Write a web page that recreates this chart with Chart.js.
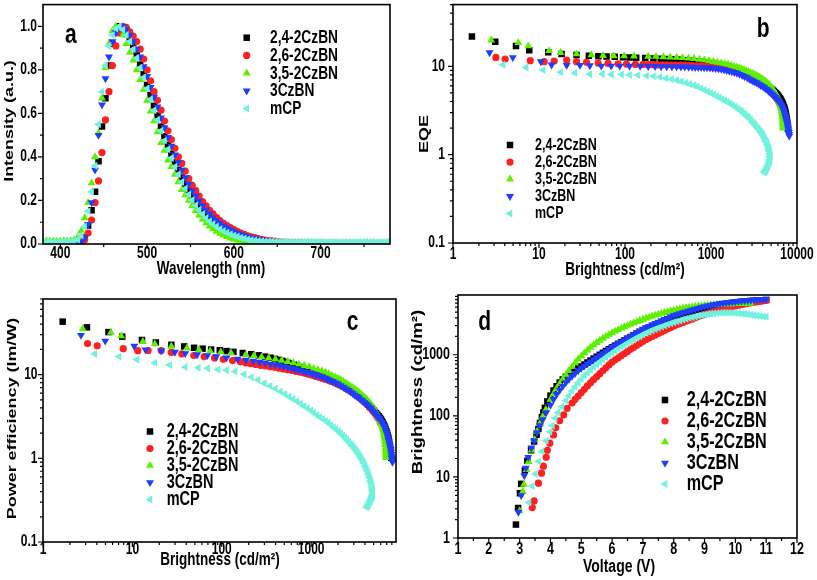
<!DOCTYPE html>
<html><head><meta charset="utf-8">
<script src="https://cdn.jsdelivr.net/npm/chart.js@4.4.0/dist/chart.umd.min.js"></script>
<style>
html,body{margin:0;padding:0;background:#fff;}
#wrap{position:relative;width:817px;height:580px;overflow:hidden;background:#fff;}
canvas{position:absolute;}
</style></head><body>
<div id="wrap">
<canvas id="ca" width="410" height="290" style="left:0px;top:0px;width:410px;height:290px"></canvas>
<canvas id="cb" width="407" height="290" style="left:410px;top:0px;width:407px;height:290px"></canvas>
<canvas id="cc" width="410" height="290" style="left:0px;top:290px;width:410px;height:290px"></canvas>
<canvas id="cd" width="407" height="290" style="left:410px;top:290px;width:407px;height:290px"></canvas>
</div>
<script>
// ---------- series names ----------
const NAMES = ['2,4-2CzBN','2,6-2CzBN','3,5-2CzBN','3CzBN','mCP'];

// ---------- panel a : PL spectra ----------
const WL = [380,384,388,392,396,400,404,408,412,416,420,424,428,432,436,440,444,448,452,456,460,464,468,472,476,480,484,488,492,496,500,504,508,512,516,520,524,528,532,536,540,544,548,552,556,560,564,568,572,576,580,584,588,592,596,600,604,608,612,616,620,624,628,632,636,640,644,648,652,656,660,664,668,672,676,680,684,688,692,696,700,704,708,712,716,720,724,728,732,736,740,744,748,752,756,760,764,768,772,776,780];
const PL_24 = [null,null,null,null,null,null,null,null,null,null,
0.002,0.005,0.03,0.085,0.155,0.24,0.38,0.54,0.67,0.82,
0.92,0.98,1.0,0.99,0.965,0.94,0.905,0.87,0.825,0.78,
0.73,0.685,0.635,0.59,0.54,0.495,0.455,0.415,0.375,0.34,
0.305,0.275,0.245,0.22,0.195,0.172,0.152,0.135,0.118,0.104,
0.091,0.08,0.07,0.061,0.053,0.046,0.04,0.035,0.03,0.026,
0.022,0.019,0.016,0.014,0.012,0.01,0.009,0.008,0.007,0.006,0.005,
0.005,0.004,0.004,0.004,0.003,0.003,0.003,0.003,0.003,0.003,
0.002,0.002,0.002,0.002,0.002,0.002,0.002,0.002,0.002,0.002,
0.002,0.002,0.002,0.002,0.002,0.002,0.002,0.002,0.002,0.002];
const PL_26 = [null,null,null,null,null,null,null,null,null,null,
0.003,0.008,0.02,0.05,0.11,0.19,0.29,0.42,0.57,0.70,
0.82,0.91,0.97,1.0,0.995,0.975,0.955,0.93,0.895,0.85,
0.8,0.75,0.70,0.66,0.615,0.565,0.52,0.48,0.44,0.40,
0.37,0.335,0.30,0.27,0.245,0.22,0.195,0.175,0.155,0.138,
0.122,0.108,0.095,0.085,0.075,0.066,0.058,0.05,0.044,0.038,
0.033,0.029,0.025,0.021,0.018,0.016,0.014,0.012,0.010,0.009,0.008,
0.007,0.006,0.006,0.005,0.005,0.004,0.004,0.004,0.003,0.003,
0.003,0.003,0.003,0.002,0.002,0.002,0.002,0.002,0.002,0.002,
0.002,0.002,0.002,0.002,0.002,0.002,0.002,0.002,0.002,0.002];
const PL_35 = [0.012,0.013,0.012,0.013,0.012,0.013,0.014,0.013,0.015,0.018,
0.03,0.06,0.12,0.19,0.28,0.40,0.51,0.67,0.81,0.92,
0.98,1.0,0.995,0.96,0.92,0.88,0.845,0.80,0.755,0.71,
0.66,0.61,0.565,0.515,0.465,0.43,0.385,0.355,0.32,0.285,
0.25,0.225,0.2,0.175,0.153,0.132,0.113,0.097,0.082,0.069,
0.058,0.048,0.04,0.033,0.027,0.022,0.018,0.015,0.012,0.010,
0.008,0.007,0.006,0.005,0.005,0.004,0.004,0.004,0.003,0.003,0.003,
0.003,0.003,0.003,0.003,0.003,0.003,0.003,0.003,0.003,0.003,
0.003,0.003,0.003,0.003,0.003,0.003,0.003,0.003,0.003,0.003,
0.003,0.003,0.003,0.003,0.003,0.003,0.003,0.003,0.003,0.003];
const PL_3 = [null,null,null,null,null,null,null,null,null,null,
0.004,0.01,0.03,0.09,0.19,0.34,0.50,0.64,0.76,0.86,
0.93,0.97,0.995,1.0,0.985,0.96,0.93,0.895,0.86,0.815,
0.77,0.72,0.675,0.63,0.58,0.535,0.49,0.45,0.41,0.375,
0.34,0.305,0.275,0.245,0.22,0.197,0.175,0.156,0.138,0.122,
0.108,0.095,0.084,0.074,0.065,0.057,0.05,0.044,0.038,0.033,
0.029,0.025,0.022,0.019,0.016,0.014,0.012,0.01,0.009,0.008,0.007,
0.006,0.005,0.005,0.004,0.004,0.004,0.003,0.003,0.003,0.003,
0.003,0.003,0.003,0.003,0.003,0.003,0.003,0.003,0.003,0.003,
0.003,0.003,0.003,0.003,0.003,0.003,0.003,0.003,0.003,0.003];
const PL_M = [0.008,0.008,0.009,0.009,0.010,0.010,0.010,0.011,0.012,0.015,
0.02,0.04,0.08,0.15,0.24,0.36,0.55,0.70,0.82,0.91,
0.96,0.99,1.0,0.985,0.96,0.93,0.895,0.855,0.81,0.765,
0.715,0.665,0.615,0.57,0.52,0.475,0.435,0.395,0.355,0.32,
0.285,0.255,0.228,0.202,0.178,0.157,0.138,0.12,0.105,0.092,
0.08,0.069,0.06,0.052,0.045,0.039,0.034,0.029,0.025,0.021,
0.018,0.016,0.014,0.013,0.012,0.011,0.011,0.01,0.01,0.01,0.01,
0.01,0.01,0.01,0.01,0.01,0.01,0.01,0.01,0.01,0.01,
0.009,0.009,0.009,0.009,0.009,0.009,0.009,0.009,0.009,0.009,
0.009,0.009,0.009,0.009,0.009,0.009,0.009,0.009,0.009,0.009];

// ---------- devices: voltage (V), brightness (cd/m2), EQE (%), PE (lm/W) ----------
const V_24 = [2.88,2.95,3.01,3.05,3.17,3.25,3.37,3.47,3.55,3.61,3.66,3.72,3.77,3.82,3.9,
4.0,4.1,4.2,4.3,4.4,4.5,4.6,4.7,4.8,4.9,5.0,5.1,5.2,5.3,5.4,5.5,5.6,5.7,5.8,5.9,
6.0,6.1,6.2,6.3,6.4,6.5,6.6,6.7,6.8,6.9,7.0,7.1,7.2,7.3,7.4,7.5,7.6,7.7,7.8,7.9,
8.0,8.1,8.2,8.3,8.4,8.5,8.6,8.7,8.8,8.9,9.0,9.1,9.2,9.3,9.4,9.5,9.6,9.7,9.8,9.9,
10.0,10.1,10.2,10.3,10.4,10.5,10.6,10.7,10.8,10.9,11.0];
const L_24 = [1.66,3.1,5.4,7.7,12.8,18.3,27.3,38,49,61,76,95,113,135,172,
214,260,305,351,394,435,474,514,555,597,641,692,746,804,865,929,998,1072,1148,1230,
1318,1409,1507,1607,1714,1828,1950,2080,2218,2360,2512,2655,2800,2951,3105,3266,3436,3606,3784,3972,
4169,4335,4498,4667,4831,5000,5176,5346,5521,5702,5888,6039,6180,6324,6457,6592,6714,6839,6950,7063,
7161,7261,7345,7430,7499,7568,7638,7691,7745,7798,7852];
const EQE_24 = [21.7,19.0,17.0,15.2,14.4,13.8,13.4,13.2,13.0,12.9,12.8,12.7,12.6,12.5,12.4,
12.3,12.2,12.1,12.0,11.9,11.85,11.75,11.7,11.6,11.5,11.45,11.35,11.25,11.1,11.0,10.9,10.8,10.7,10.55,10.4,
10.3,10.1,9.95,9.8,9.65,9.45,9.3,9.1,8.9,8.7,8.5,8.3,8.1,7.9,7.7,7.5,7.3,7.1,6.9,6.65,
6.4,6.2,6.0,5.85,5.7,5.55,5.4,5.25,5.1,4.95,4.8,4.65,4.5,4.35,4.2,4.05,3.9,3.75,3.6,3.45,
3.3,3.15,3.0,2.85,2.7,2.55,2.4,2.3,2.15,2.05,1.95];
const PE_24 = [42.9,36.7,32.2,28.4,25.9,24.2,22.7,21.7,20.9,20.4,19.9,19.5,19.1,18.7,18.1,
17.5,17.0,16.4,15.9,15.4,15.0,14.6,14.2,13.8,13.4,13.1,12.7,12.3,11.9,11.6,11.3,11.0,10.7,10.4,10.0,
9.8,9.4,9.15,8.9,8.6,8.3,8.0,7.7,7.5,7.2,6.9,6.7,6.4,6.2,5.9,5.7,5.5,5.3,5.0,4.8,
4.6,4.36,4.17,4.02,3.87,3.72,3.58,3.44,3.30,3.17,3.04,2.91,2.79,2.67,2.55,2.43,2.32,2.20,2.09,1.99,
1.88,1.78,1.68,1.58,1.48,1.38,1.29,1.23,1.13,1.07,1.01];

const V_26 = [3.41,3.47,3.61,3.71,3.77,3.86,3.9,3.98,4.1,4.17,4.3,4.43,4.54,4.7,4.8,4.9,
5.0,5.1,5.2,5.3,5.4,5.5,5.6,5.7,5.8,5.9,6.0,6.1,6.2,6.3,6.4,6.5,6.6,6.7,6.8,6.9,
7.0,7.1,7.2,7.3,7.4,7.5,7.6,7.7,7.8,7.9,8.0,8.1,8.2,8.3,8.4,8.5,8.6,8.7,8.8,8.9,
9.0,9.1,9.2,9.3,9.4,9.5,9.6,9.7,9.8,9.9,10.0,10.1,10.2,10.3,10.4,10.5,10.6,10.7,10.8,10.9,11.0];
const L_26 = [3.15,4.04,7.9,11.5,15,21,27.3,35.7,48.7,63.5,83,104,132,162,186,211,
240,272,308,347,390,438,490,547,611,681,759,824,893,968,1047,1132,1225,1321,1426,1538,
1660,1766,1875,1991,2109,2234,2366,2500,2642,2793,2951,3090,3236,3381,3532,3690,3855,4027,4207,4385,
4571,4732,4898,5058,5224,5395,5572,5754,5943,6124,6310,6471,6622,6776,6918,7063,7211,7345,7482,7621,7762];
const EQE_26 = [12.6,12.1,11.6,11.3,11.5,11.8,11.3,11.1,10.9,10.8,10.7,10.6,10.5,10.5,10.45,10.45,
10.4,10.4,10.4,10.35,10.35,10.3,10.3,10.25,10.2,10.15,10.1,10.05,10.0,9.95,9.85,9.75,9.65,9.55,9.45,9.35,
9.2,9.1,9.0,8.85,8.7,8.55,8.4,8.2,8.05,7.85,7.65,7.5,7.3,7.15,6.95,6.8,6.6,6.4,6.2,6.0,
5.75,5.6,5.4,5.2,5.0,4.8,4.6,4.4,4.2,4.0,3.8,3.6,3.45,3.25,3.1,2.9,2.75,2.6,2.45,2.3,2.15];
const PE_26 = [23.5,22.1,20.4,19.3,19.4,19.4,18.4,17.7,16.9,16.4,15.8,15.2,14.7,14.2,13.8,13.5,
13.2,12.9,12.7,12.4,12.2,11.9,11.7,11.4,11.2,10.9,10.7,10.5,10.2,10.0,9.8,9.5,9.3,9.05,8.8,8.6,
8.35,8.15,7.9,7.7,7.45,7.25,7.0,6.75,6.55,6.3,6.05,5.9,5.65,5.45,5.25,5.1,4.9,4.65,4.5,4.3,
4.05,3.9,3.75,3.55,3.4,3.2,3.05,2.9,2.7,2.55,2.4,2.25,2.15,2.0,1.9,1.75,1.65,1.55,1.45,1.35,1.25];

const V_35 = [3.0,3.1,3.14,3.23,3.29,3.39,3.49,3.57,3.65,3.75,3.85,
4.0,4.1,4.2,4.3,4.4,4.5,4.6,4.7,4.8,4.9,5.0,5.1,5.2,5.3,5.4,5.5,5.6,5.7,5.8,5.9,
6.0,6.1,6.2,6.3,6.4,6.5,6.6,6.7,6.8,6.9,7.0,7.1,7.2,7.3,7.4,7.5,7.6,7.7,7.8,7.9,
8.0,8.1,8.2,8.3,8.4,8.5,8.6,8.7,8.8,8.9,9.0,9.1,9.2,9.3,9.4,9.5,9.6,9.7,9.8,9.9,
10.0,10.1,10.2,10.3,10.4,10.5];
const L_35 = [2.78,5.75,7.5,13.1,17.8,27.3,40.7,55.6,74,97.5,127,
186,229,279,335,398,468,547,635,733,838,951,1067,1189,1315,1445,1578,1714,1854,1995,2138,
2280,2421,2564,2710,2858,3006,3155,3311,3467,3622,3784,3945,4102,4256,4416,4571,4732,4887,5047,5200,
5346,5480,5610,5735,5855,5970,6075,6170,6255,6330,6400,6465,6525,6580,6630,6675,6715,6750,6780,6805,
6828,6848,6865,6880,6893,6905];
const EQE_35 = [19.8,18.5,17.0,15.0,14.3,13.8,13.5,13.2,13.1,13.1,13.05,
12.95,12.9,12.8,12.7,12.6,12.5,12.35,12.2,12.0,11.8,11.6,11.3,11.1,10.9,10.7,10.5,10.25,10.0,9.8,9.6,
9.35,9.1,8.9,8.7,8.5,8.3,8.1,7.9,7.75,7.55,7.35,7.15,7.0,6.8,6.6,6.4,6.2,6.0,5.75,5.5,
5.3,5.1,4.95,4.8,4.6,4.45,4.3,4.15,4.0,3.85,3.7,3.55,3.45,3.3,3.15,3.0,2.9,2.75,2.65,2.5,
2.4,2.3,2.2,2.1,2.05,2.0];
const PE_35 = [35.2,31.8,28.9,24.8,23.2,21.7,20.6,19.7,19.1,18.6,18.1,
17.3,16.8,16.2,15.7,15.3,14.8,14.3,13.8,13.3,12.8,12.4,11.8,11.4,11.0,10.6,10.2,9.75,9.35,9.0,8.7,
8.3,7.95,7.65,7.35,7.1,6.8,6.55,6.3,6.05,5.85,5.6,5.35,5.2,4.95,4.75,4.55,4.35,4.15,3.95,3.7,
3.55,3.35,3.2,3.1,2.9,2.8,2.65,2.55,2.4,2.3,2.2,2.1,2.0,1.9,1.8,1.7,1.6,1.5,1.45,1.35,
1.28,1.21,1.15,1.09,1.05,1.02];

const V_3 = [2.96,3.05,3.15,3.2,3.28,3.38,3.47,3.56,3.65,3.75,3.86,
4.0,4.1,4.2,4.3,4.4,4.5,4.6,4.7,4.8,4.9,5.0,5.1,5.2,5.3,5.4,5.5,5.6,5.7,5.8,5.9,
6.0,6.1,6.2,6.3,6.4,6.5,6.6,6.7,6.8,6.9,7.0,7.1,7.2,7.3,7.4,7.5,7.6,7.7,7.8,7.9,
8.0,8.1,8.2,8.3,8.4,8.5,8.6,8.7,8.8,8.9,9.0,9.1,9.2,9.3,9.4,9.5,9.6,9.7,9.8,9.9,
10.0,10.1,10.2,10.3,10.4,10.5,10.6,10.7,10.8,10.9,11.0];
const L_3 = [2.66,4.96,10.5,14,21,29.9,39,53,69,87,113,
150,186,224,263,305,351,398,447,495,550,603,655,710,769,832,899,973,1050,1132,1222,
1318,1416,1521,1629,1746,1871,2004,2148,2301,2460,2630,2780,2931,3090,3251,3420,3597,3776,3963,4159,
4365,4539,4710,4887,5058,5236,5420,5598,5781,5970,6166,6324,6471,6607,6745,6871,6998,7112,7228,7328,
7413,7516,7603,7691,7762,7834,7907,7962,8017,8072,8128];
const EQE_3 = [14.3,12.6,11.3,10.4,10.3,10.3,10.2,10.1,10.1,10.1,10.05,
10.05,10.0,10.0,9.95,9.95,9.9,9.9,9.85,9.85,9.8,9.8,9.75,9.75,9.7,9.65,9.65,9.6,9.55,9.5,9.4,
9.3,9.15,9.0,8.85,8.7,8.55,8.4,8.15,7.9,7.65,7.45,7.2,7.0,6.8,6.65,6.5,6.3,6.1,5.95,5.75,
5.55,5.4,5.25,5.05,4.9,4.75,4.6,4.45,4.3,4.15,4.0,3.85,3.7,3.6,3.45,3.3,3.15,3.0,2.85,2.7,
2.6,2.45,2.35,2.25,2.15,2.05,1.95,1.85,1.78,1.7,1.63];
const PE_3 = [29.5,25.2,21.9,19.8,19.2,18.6,17.9,17.3,16.9,16.4,15.9,
15.3,14.9,14.5,14.1,13.8,13.4,13.1,12.8,12.5,12.2,12.0,11.7,11.4,11.2,10.9,10.7,10.5,10.2,10.0,9.7,
9.45,9.15,8.85,8.55,8.3,8.0,7.75,7.4,7.1,6.75,6.5,6.2,5.95,5.7,5.5,5.3,5.05,4.85,4.65,4.45,
4.25,4.05,3.9,3.7,3.55,3.4,3.25,3.1,3.0,2.85,2.7,2.6,2.45,2.35,2.25,2.1,2.0,1.9,1.77,1.66,
1.59,1.48,1.4,1.33,1.26,1.19,1.12,1.05,1.0,0.95,0.9];

const V_M = [3.3,3.41,3.51,3.62,3.72,3.86,3.98,4.06,4.15,4.25,4.37,
4.5,4.6,4.7,4.8,4.9,5.0,5.1,5.2,5.3,5.4,5.5,5.6,5.7,5.8,5.9,
6.0,6.1,6.2,6.3,6.4,6.5,6.6,6.7,6.8,6.9,7.0,7.1,7.2,7.3,7.4,7.5,7.6,7.7,7.8,7.9,
8.0,8.1,8.2,8.3,8.4,8.5,8.6,8.7,8.8,8.9,9.0,9.1,9.2,9.3,9.4,9.5,9.6,9.7,9.8,9.9,
10.0,10.1,10.2,10.3,10.4,10.5,10.6,10.7,10.8,10.9,11.0];
const L_M = [3.8,7.07,11.2,17.8,26.1,39,54.6,69.5,91,113,141,
178,214,254,299,347,398,452,507,565,627,692,760,834,910,989,
1072,1159,1250,1346,1445,1549,1660,1774,1892,2014,2138,2259,2382,2506,2630,2754,2884,3013,3141,3266,
3388,3516,3639,3767,3890,4009,4121,4236,4345,4436,4519,4603,4677,4742,4797,4842,4864,4875,4864,4842,
4808,4764,4710,4645,4581,4519,4446,4375,4305,4236,4169];
const EQE_M = [10.4,9.7,9.1,8.6,8.4,8.15,8.2,8.1,8.1,8.0,7.95,
7.85,7.7,7.55,7.35,7.15,6.95,6.75,6.5,6.3,6.1,5.9,5.65,5.4,5.2,5.0,
4.8,4.6,4.4,4.25,4.1,3.95,3.8,3.65,3.5,3.35,3.2,3.1,2.95,2.85,2.7,2.6,2.5,2.35,2.25,2.15,
2.05,1.98,1.9,1.82,1.74,1.66,1.58,1.5,1.43,1.37,1.31,1.25,1.19,1.14,1.09,1.04,1.0,0.96,0.92,0.88,
0.85,0.82,0.79,0.77,0.75,0.72,0.7,0.68,0.66,0.645,0.63];
const PE_M = [17.7,16.4,15.1,13.8,13.0,12.3,12.1,11.9,11.5,11.3,10.9,
10.1,9.3,8.6,7.9,7.3,6.8,6.3,5.85,5.45,5.1,4.8,4.5,4.2,3.95,3.72,
3.5,3.3,3.1,2.95,2.8,2.65,2.5,2.35,2.22,2.1,1.98,1.87,1.77,1.67,1.58,1.49,1.41,1.33,1.26,1.19,
1.12,1.05,0.99,0.93,0.87,0.81,0.76,0.71,0.66,0.62,0.58,0.54,0.51,0.48,0.45,0.43,0.41,0.39,0.37,0.36,
0.35,0.34,0.33,0.32,0.31,0.3,0.29,0.28,0.27,0.265,0.26];

// ---------- styling ----------
const COLORS = ['#000000','#ff2020','#5cf000','#1f3cff','#70f2dc'];
const SHAPES = [
  {style:'rect', r:4.6, rot:0},
  {style:'circle', r:3.6, rot:0},
  {style:'triangle', r:4.6, rot:0},
  {style:'triangle', r:4.6, rot:180},
  {style:'triangle', r:4.6, rot:270}
];
const FONT = '"Liberation Sans", Arial, Helvetica, sans-serif';
const SY = 1.33;   // vertical stretch of the figure's lettering

function series(xs, ys, i){
  const pts = [];
  xs.forEach((x,k)=>{ if(ys[k]!==null && ys[k]!==undefined) pts.push({x:x, y:ys[k]}); });
  return {label:NAMES[i], data:pts, order:5-i, showLine:false,
    pointStyle:SHAPES[i].style, pointRadius:SHAPES[i].r, pointRotation:SHAPES[i].rot,
    pointHoverRadius:SHAPES[i].r, pointBackgroundColor:COLORS[i], pointBorderColor:COLORS[i], pointBorderWidth:0};
}
function logMinor(lo, hi){ const a=[]; for(let e=lo;e<=hi;e++){ for(let m=2;m<=9;m++) a.push(m*Math.pow(10,e)); } return a; }

function sText(ctx, str, x, y, size, align, baseline, rot){
  ctx.save();
  ctx.translate(x, y);
  if(rot){ ctx.rotate(-Math.PI/2); ctx.scale(SY, 1); } else { ctx.scale(1, SY); }
  ctx.font = 'bold '+size+'px '+FONT;
  ctx.textAlign = align; ctx.textBaseline = baseline;
  ctx.fillStyle = '#000';
  ctx.fillText(str, 0, 0);
  ctx.restore();
}

const PANELS = [
 {id:'ca', letter:'a', pad:{left:0,top:4,right:20,bottom:0}, yW:43, xH:46,
  data:[series(WL,PL_24,0),series(WL,PL_26,1),series(WL,PL_35,2),series(WL,PL_3,3),series(WL,PL_M,4)],
  x:{type:'linear', min:380, max:780, title:'Wavelength (nm)', tc:[211,269.5],
     major:[400,500,600,700], minor:[450,550,650,750], labels:['400','500','600','700']},
  y:{type:'linear', min:0, max:1.1, title:'Intensity (a.u.)', tc:[9,121],
     major:[0,0.2,0.4,0.6,0.8,1.0], minor:[0.1,0.3,0.5,0.7,0.9], labels:['0.0','0.2','0.4','0.6','0.8','1.0']},
  fs:{tick:12, title:13.5, legend:13.75, letter:21}, xLabY:253.5, yGap:6,
  legend:{mx:246.7, tx:270, y0:37.7, dy:17.7}, lp:{x:65, y:43}},
 {id:'cb', letter:'b', pad:{left:0,top:4,right:20,bottom:0}, yW:43, xH:47,
  data:[series(L_24,EQE_24,0),series(L_26,EQE_26,1),series(L_35,EQE_35,2),series(L_3,EQE_3,3),series(L_M,EQE_M,4)],
  x:{type:'logarithmic', min:1, max:10000, title:'Brightness (cd/m\u00B2)', tc:[215,270],
     major:[1,10,100,1000,10000], minor:logMinor(0,3), labels:['1','10','100','1000','10000']},
  y:{type:'logarithmic', min:0.1, max:50, title:'EQE', tc:[14,134],
     major:[0.1,1,10], minor:logMinor(-1,1), labels:['0.1','1','10']},
  fs:{tick:12, title:13.5, legend:12.5, letter:21}, xLabY:254.5, yGap:8,
  legend:{mx:100, tx:125, y0:145, dy:17.1}, lp:{x:346.7, y:36.7}},
 {id:'cc', letter:'c', pad:{left:0,top:9,right:14,bottom:0}, yW:43, xH:38,
  data:[series(L_24,PE_24,0),series(L_26,PE_26,1),series(L_35,PE_35,2),series(L_3,PE_3,3),series(L_M,PE_M,4)],
  x:{type:'logarithmic', min:1, max:8900, title:'Brightness (cd/m\u00B2)', tc:[220,270.5],
     major:[1,10,100,1000], minor:logMinor(0,3), labels:['1','10','100','1000']},
  y:{type:'logarithmic', min:0.1, max:80, title:'Power efficiency (lm/W)', tc:[12.5,128.5],
     major:[0.1,1,10], minor:logMinor(-1,1), labels:['0.1','1','10']},
  fs:{tick:12, title:13.5, legend:14.5, letter:21}, xLabY:260, yGap:5.5,
  legend:{mx:150, tx:166.7, y0:141.5, dy:17}, lp:{x:346.7, y:40}},
 {id:'cd', letter:'d', pad:{left:0,top:5,right:20,bottom:0}, yW:48, xH:42,
  data:[series(V_24,L_24,0),series(V_26,L_26,1),series(V_35,L_35,2),series(V_3,L_3,3),series(V_M,L_M,4)],
  x:{type:'linear', min:1, max:12, title:'Voltage (V)', tc:[209,277],
     major:[1,2,3,4,5,6,7,8,9,10,11,12], minor:[1.5,2.5,3.5,4.5,5.5,6.5,7.5,8.5,9.5,10.5,11.5],
     labels:['1','2','3','4','5','6','7','8','9','10','11','12']},
  y:{type:'logarithmic', min:1, max:9500, title:'Brightness (cd/m\u00B2)', tc:[8.5,102],
     major:[1,10,100,1000], minor:logMinor(0,3), labels:['1','10','100','1000']},
  fs:{tick:12.5, title:14, legend:16.2, letter:21}, xLabY:259.5, yGap:8,
  legend:{mx:255, tx:276.7, y0:110, dy:21}, lp:{x:68.3, y:40}}
];

function axisOpts(a, isX, P){
  return {
    type:a.type, min:a.min, max:a.max, position: isX?'bottom':'left',
    grid:{display:false, drawTicks:false}, border:{display:false},
    ticks:{display:false},
    afterBuildTicks:(s)=>{ s.ticks = a.major.map(v=>({value:v})); },
    title:{display:false},
    afterFit: isX ? (s)=>{ s.height = P.xH; } : (s)=>{ s.width = P.yW; }
  };
}

PANELS.forEach(P=>{
  const framePlugin = {
    id:'frame'+P.id,
    afterDraw(chart){
      const ctx = chart.ctx, ca = chart.chartArea, xs = chart.scales.x, ys = chart.scales.y;
      ctx.save();
      ctx.strokeStyle = '#000';
      ctx.lineWidth = 1.2;
      ctx.beginPath();
      const inX = v => v>=P.x.min && v<=P.x.max, inY = v => v>=P.y.min && v<=P.y.max;
      P.x.major.filter(inX).forEach(v=>{ const p=xs.getPixelForValue(v); ctx.moveTo(p,ca.bottom); ctx.lineTo(p,ca.bottom+5); });
      P.x.minor.filter(inX).forEach(v=>{ const p=xs.getPixelForValue(v); ctx.moveTo(p,ca.bottom); ctx.lineTo(p,ca.bottom+3); });
      P.y.major.filter(inY).forEach(v=>{ const p=ys.getPixelForValue(v); ctx.moveTo(ca.left,p); ctx.lineTo(ca.left-5,p); });
      P.y.minor.filter(inY).forEach(v=>{ const p=ys.getPixelForValue(v); ctx.moveTo(ca.left,p); ctx.lineTo(ca.left-3,p); });
      ctx.stroke();
      ctx.lineWidth = 1.6;
      ctx.strokeRect(ca.left, ca.top, ca.right-ca.left, ca.bottom-ca.top);
      // tick labels (positions from the library's scales)
      P.x.major.forEach((v,k)=>{ sText(ctx, P.x.labels[k], xs.getPixelForValue(v), P.xLabY, P.fs.tick, 'center', 'middle', false); });
      P.y.major.forEach((v,k)=>{ sText(ctx, P.y.labels[k], ca.left - P.yGap, ys.getPixelForValue(v), P.fs.tick, 'right', 'middle', false); });
      // axis titles
      sText(ctx, P.x.title, P.x.tc[0], P.x.tc[1], P.fs.title, 'center', 'middle', false);
      sText(ctx, P.y.title, P.y.tc[0], P.y.tc[1], P.fs.title, 'center', 'middle', true);
      // legend
      const lg = P.legend;
      for(let i=0;i<5;i++){
        const y = lg.y0 + lg.dy*i;
        ctx.fillStyle = COLORS[i];
        Chart.helpers.drawPoint(ctx, {pointStyle:SHAPES[i].style, radius:SHAPES[i].r, rotation:SHAPES[i].rot, borderWidth:0}, lg.mx, y);
        sText(ctx, NAMES[i], lg.tx, y+0.5, P.fs.legend, 'left', 'middle', false);
      }
      // panel letter
      sText(ctx, P.letter, P.lp.x, P.lp.y, P.fs.letter, 'left', 'alphabetic', false);
      ctx.restore();
    }
  };
  new Chart(document.getElementById(P.id), {
    type:'scatter',
    data:{datasets:P.data},
    options:{
      responsive:false, animation:false, devicePixelRatio:1,
      layout:{padding:P.pad},
      plugins:{legend:{display:false}, tooltip:{enabled:false}},
      scales:{x:axisOpts(P.x,true,P), y:axisOpts(P.y,false,P)}
    },
    plugins:[framePlugin]
  });
});
</script>
</body></html>
